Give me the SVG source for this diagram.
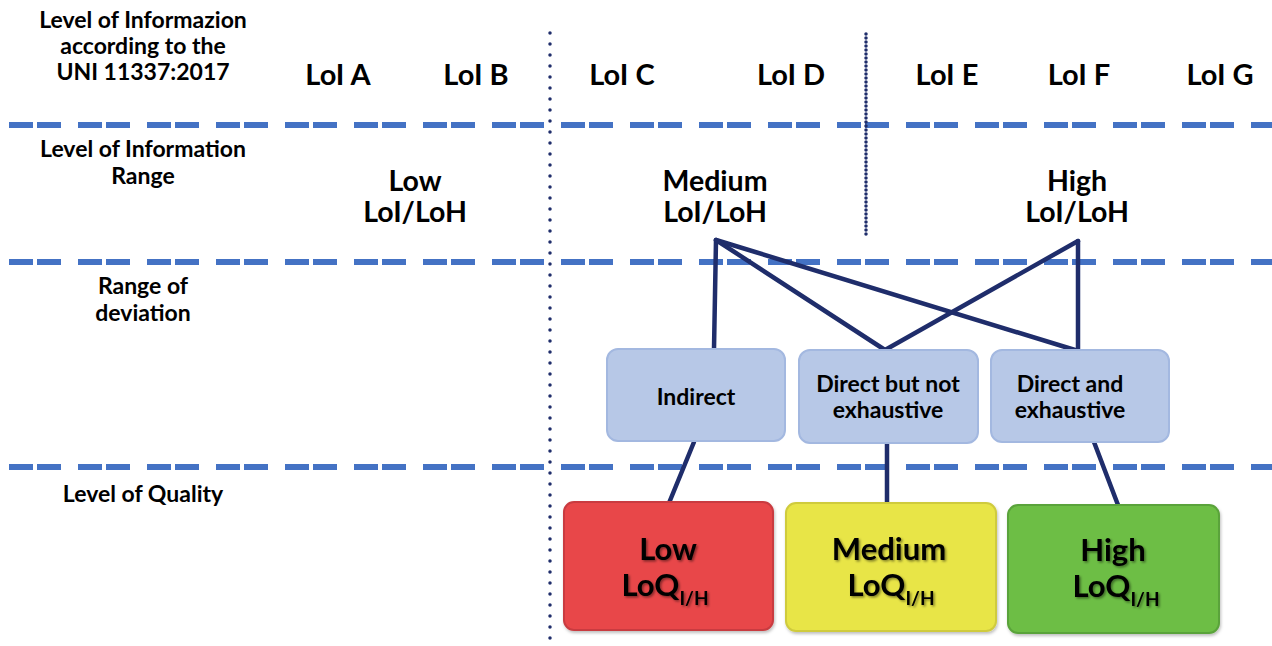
<svg xmlns="http://www.w3.org/2000/svg" width="1272" height="646" viewBox="0 0 1272 646">
<defs>
<filter id="ts" x="-20%" y="-20%" width="140%" height="140%">
<feDropShadow dx="1.5" dy="1.5" stdDeviation="1" flood-color="#000" flood-opacity="0.45"/>
</filter>
<filter id="bs" x="-10%" y="-10%" width="120%" height="120%">
<feDropShadow dx="1" dy="2" stdDeviation="1.5" flood-color="#000" flood-opacity="0.25"/>
</filter>
</defs>
<style>
text{font-family:Lato,"Open Sans","Liberation Sans",sans-serif;font-weight:bold;fill:#000;text-anchor:middle}
.lab{font-size:23px}
.loi{font-size:29px}
.rng{font-size:28.5px}
.dev{font-size:23px}
.loq{font-size:31px}
.sub{font-size:19px}
.hd{stroke:#4472C4;stroke-width:6;stroke-dasharray:24 4 24 17;fill:none}
.vd{stroke:#1F2D6B;stroke-width:3.5;stroke-linecap:round;fill:none}
.conn line{stroke:#1F2D6B;stroke-width:4.5;stroke-linecap:round}
.devbox{fill:#B7C8E7;stroke:#A3B8E0;stroke-width:2}
</style>
<rect width="1272" height="646" fill="#fff"/>
<g id="grid">
<line class="hd" x1="9" y1="125" x2="1272" y2="125"/>
<line class="hd" x1="9" y1="262" x2="1272" y2="262"/>
<line class="hd" x1="9" y1="467" x2="1272" y2="467"/>
<line class="vd" x1="550" y1="33" x2="550" y2="644" stroke-dasharray="0 11"/>
<line class="vd" x1="866" y1="34" x2="866" y2="238" stroke-dasharray="0 4" stroke-width="3"/>
</g>
<g id="row-labels">
<text class="lab" x="143" y="28">Level of Informazion<tspan x="143" dy="26">according to the</tspan><tspan x="143" dy="26">UNI 11337:2017</tspan></text>
<text class="lab" x="143" y="157">Level of Information<tspan x="143" dy="26.5">Range</tspan></text>
<text class="lab" x="143" y="294">Range of<tspan x="143" dy="26.5">deviation</tspan></text>
<text class="lab" x="143" y="502">Level of Quality</text>
</g>
<g id="loi-levels">
<text class="loi" x="338" y="85">LoI A</text>
<text class="loi" x="476" y="85">LoI B</text>
<text class="loi" x="622" y="85">LoI C</text>
<text class="loi" x="791" y="85">LoI D</text>
<text class="loi" x="947" y="85">LoI E</text>
<text class="loi" x="1079" y="85">LoI F</text>
<text class="loi" x="1220" y="85">LoI G</text>
</g>
<g id="range-low"><text class="rng" x="415" y="191">Low<tspan x="415" dy="31">LoI/LoH</tspan></text></g>
<g id="range-medium"><text class="rng" x="715" y="191">Medium<tspan x="715" dy="31">LoI/LoH</tspan></text></g>
<g id="range-high"><text class="rng" x="1077" y="191">High<tspan x="1077" dy="31">LoI/LoH</tspan></text></g>
<g class="conn" id="connectors">
<line x1="716" y1="240" x2="714" y2="349"/>
<line x1="716" y1="240" x2="885" y2="350"/>
<line x1="716" y1="240" x2="1075" y2="350"/>
<line x1="1078" y1="241" x2="885" y2="350"/>
<line x1="1078" y1="241" x2="1078" y2="350"/>
<line x1="694" y1="442" x2="669" y2="503"/>
<line x1="887" y1="443" x2="887" y2="503"/>
<line x1="1094" y1="442" x2="1118" y2="505"/>
</g>
<g id="dev-indirect">
<rect class="devbox" x="607" y="349" width="178" height="92" rx="11"/>
<text class="dev" x="696" y="405">Indirect</text>
</g>
<g id="dev-direct-not-exhaustive">
<rect class="devbox" x="799" y="350" width="179" height="93" rx="11"/>
<text class="dev" x="888" y="392">Direct but not<tspan x="888" dy="26">exhaustive</tspan></text>
</g>
<g id="dev-direct-exhaustive">
<rect class="devbox" x="991" y="350" width="178" height="92" rx="11"/>
<text class="dev" x="1070" y="392">Direct and<tspan x="1070" dy="26">exhaustive</tspan></text>
</g>
<g id="loq-low">
<rect x="564" y="502" width="209" height="128" rx="10" fill="#E8474A" stroke="#C93B3F" stroke-width="2" filter="url(#bs)"/>
<text class="loq" x="668" y="560" filter="url(#ts)">Low<tspan x="665" dy="36">LoQ</tspan><tspan class="sub" dy="9">I/H</tspan></text>
</g>
<g id="loq-medium">
<rect x="786" y="503" width="210" height="128" rx="10" fill="#E8E547" stroke="#CFCB3E" stroke-width="2" filter="url(#bs)"/>
<text class="loq" x="889" y="560" filter="url(#ts)">Medium<tspan x="891" dy="36">LoQ</tspan><tspan class="sub" dy="9">I/H</tspan></text>
</g>
<g id="loq-high">
<rect x="1008" y="505" width="211" height="128" rx="10" fill="#6DBE45" stroke="#5AA33A" stroke-width="2" filter="url(#bs)"/>
<text class="loq" x="1113" y="561" filter="url(#ts)">High<tspan x="1116" dy="36">LoQ</tspan><tspan class="sub" dy="9">I/H</tspan></text>
</g>
</svg>
